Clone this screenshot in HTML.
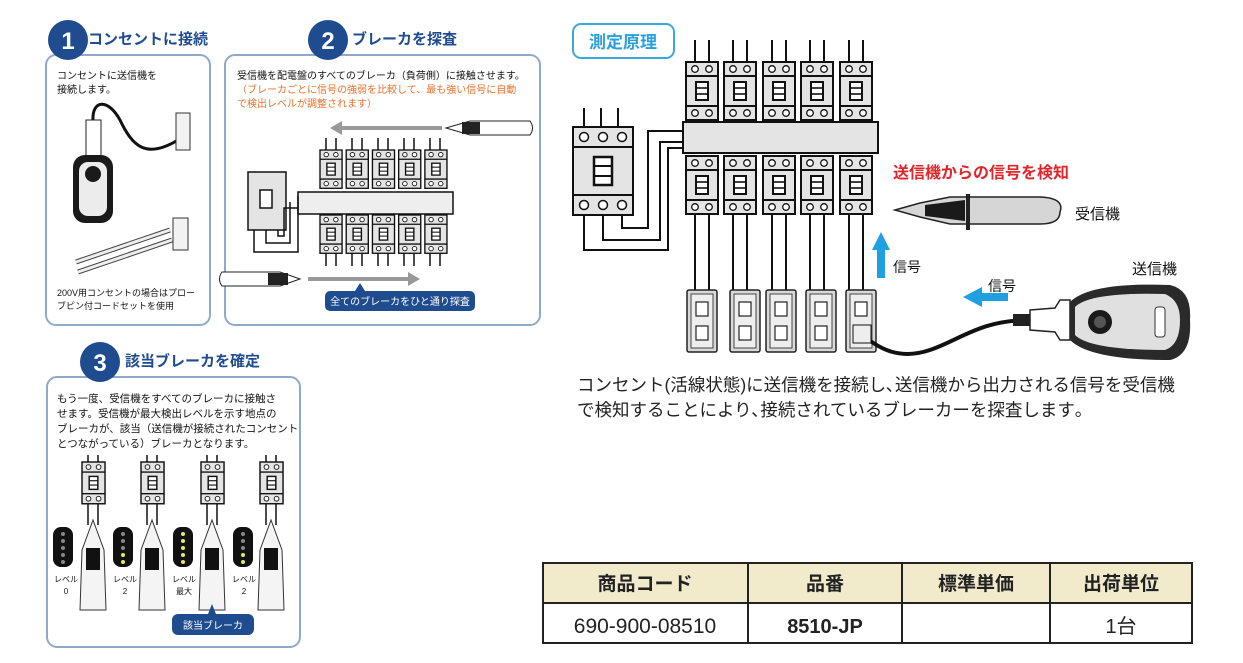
<!DOCTYPE html>
<html><head><meta charset="utf-8">
<style>
html,body{margin:0;padding:0;background:#fff;}
svg{display:block;}
text{font-family:"Liberation Sans","Noto Sans CJK JP",sans-serif;}
</style></head>
<body>
<svg width="1243" height="663" viewBox="0 0 1243 663" xmlns="http://www.w3.org/2000/svg">
<defs>
  <g id="brk">
    <rect x="0" y="0" width="32" height="58" fill="#e4e4e4" stroke="#111" stroke-width="2"/>
    <line x1="0" y1="14" x2="32" y2="14" stroke="#111" stroke-width="2"/>
    <line x1="0" y1="44" x2="32" y2="44" stroke="#111" stroke-width="2"/>
    <circle cx="9" cy="7" r="3.3" fill="#fff" stroke="#111" stroke-width="1.3"/>
    <circle cx="23" cy="7" r="3.3" fill="#fff" stroke="#111" stroke-width="1.3"/>
    <circle cx="9" cy="51" r="3.3" fill="#fff" stroke="#111" stroke-width="1.3"/>
    <circle cx="23" cy="51" r="3.3" fill="#fff" stroke="#111" stroke-width="1.3"/>
    <rect x="10" y="20" width="12" height="18" fill="#fff" stroke="#111" stroke-width="2"/>
    <line x1="10" y1="26" x2="22" y2="26" stroke="#111" stroke-width="1.6"/>
    <line x1="10" y1="32" x2="22" y2="32" stroke="#111" stroke-width="1.6"/>
  </g>
  <g id="outlet">
    <rect x="0" y="0" width="30" height="62" rx="2" fill="#d8d8d8" stroke="#222" stroke-width="1.5"/>
    <rect x="4" y="4" width="22" height="54" fill="#eee" stroke="#444" stroke-width="1"/>
    <rect x="9" y="12" width="12" height="14" fill="#fff" stroke="#222" stroke-width="1.2"/>
    <rect x="9" y="36" width="12" height="14" fill="#fff" stroke="#222" stroke-width="1.2"/>
  </g>
</defs>

<!-- ===== Panel 1 ===== -->
<rect x="46" y="55" width="164" height="270" rx="10" fill="#fff" stroke="#8fa9cc" stroke-width="2"/>
<circle cx="68" cy="40" r="20" fill="#1f4c8f"/>
<text x="68" y="49" font-size="24" font-weight="bold" fill="#fff" text-anchor="middle">1</text>
<text x="88" y="44" font-size="15" font-weight="bold" fill="#1f4c8f">コンセントに接続</text>
<text x="57" y="79" font-size="10" fill="#111">コンセントに送信機を</text>
<text x="57" y="93" font-size="10" fill="#111">接続します。</text>
<path d="M93 120 C92 100 108 98 120 120 C132 145 145 160 178 140" fill="none" stroke="#111" stroke-width="3"/>
<rect x="176" y="113" width="14" height="37" fill="#f2f2f2" stroke="#333" stroke-width="1"/>
<rect x="86" y="120" width="15" height="36" fill="#fff" stroke="#222"/>
<rect x="73" y="155" width="40" height="68" rx="12" fill="#1a1a1a"/>
<rect x="79" y="162" width="28" height="54" rx="9" fill="#ececec"/>
<circle cx="93" cy="174" r="8" fill="#1a1a1a"/>
<rect x="173" y="218" width="15" height="32" fill="#f2f2f2" stroke="#333"/>
<path d="M76 262 L170 230 M78 272 L172 240" stroke="#444" stroke-width="5"/>
<path d="M76 262 L170 230 M78 272 L172 240" stroke="#eee" stroke-width="3"/>
<text x="57" y="296" font-size="9" fill="#111">200V用コンセントの場合はプロー</text>
<text x="57" y="309" font-size="9" fill="#111">ブピン付コードセットを使用</text>

<!-- ===== Panel 2 ===== -->
<rect x="225" y="55" width="315" height="270" rx="10" fill="#fff" stroke="#8fa9cc" stroke-width="2"/>
<circle cx="328" cy="40" r="20" fill="#1f4c8f"/>
<text x="328" y="49" font-size="24" font-weight="bold" fill="#fff" text-anchor="middle">2</text>
<text x="352" y="44" font-size="15" font-weight="bold" fill="#1f4c8f">ブレーカを探査</text>
<text x="237" y="79" font-size="10" fill="#111">受信機を配電盤のすべてのブレーカ（負荷側）に接触させます。</text>
<text x="237" y="93" font-size="10" fill="#e8702a">（ブレーカごとに信号の強弱を比較して、最も強い信号に自動</text>
<text x="237" y="107" font-size="10" fill="#e8702a">で検出レベルが調整されます）</text>
<line x1="338" y1="128" x2="442" y2="128" stroke="#999" stroke-width="4"/>
<polygon points="330,128 342,121 342,135" fill="#999"/>
<path d="M446 128 L470 121 L530 121 Q535 128 530 135 L470 135 Z" fill="#fff" stroke="#222"/>
<rect x="462" y="122" width="18" height="12" fill="#222"/>
<g transform="translate(320,150) scale(0.69,0.66)">
  <use href="#brk" x="0"/><use href="#brk" x="38"/><use href="#brk" x="76"/><use href="#brk" x="114"/><use href="#brk" x="152"/>
</g>
<g stroke="#111" stroke-width="1.5">
  <line x1="326" y1="138" x2="326" y2="150"/><line x1="336" y1="138" x2="336" y2="150"/>
  <line x1="352" y1="138" x2="352" y2="150"/><line x1="362" y1="138" x2="362" y2="150"/>
  <line x1="378" y1="138" x2="378" y2="150"/><line x1="388" y1="138" x2="388" y2="150"/>
  <line x1="404" y1="138" x2="404" y2="150"/><line x1="414" y1="138" x2="414" y2="150"/>
  <line x1="430" y1="138" x2="430" y2="150"/><line x1="440" y1="138" x2="440" y2="150"/>
  <line x1="326" y1="253" x2="326" y2="266"/><line x1="336" y1="253" x2="336" y2="266"/>
  <line x1="352" y1="253" x2="352" y2="266"/><line x1="362" y1="253" x2="362" y2="266"/>
  <line x1="378" y1="253" x2="378" y2="266"/><line x1="388" y1="253" x2="388" y2="266"/>
  <line x1="404" y1="253" x2="404" y2="266"/><line x1="414" y1="253" x2="414" y2="266"/>
  <line x1="430" y1="253" x2="430" y2="266"/><line x1="440" y1="253" x2="440" y2="266"/>
</g>
<rect x="298" y="192" width="155" height="22" fill="#eee" stroke="#111" stroke-width="1.5"/>
<g transform="translate(320,215) scale(0.69,0.66)">
  <use href="#brk" x="0"/><use href="#brk" x="38"/><use href="#brk" x="76"/><use href="#brk" x="114"/><use href="#brk" x="152"/>
</g>
<rect x="248" y="172" width="38" height="58" fill="#e4e4e4" stroke="#111" stroke-width="1.5"/>
<rect x="260" y="190" width="12" height="18" fill="#fff" stroke="#111" stroke-width="1.5"/>
<path d="M254 230 V252 H298 V196 M266 230 V243 H290 V202 M278 230 V236 H284 V208 H298" fill="none" stroke="#111" stroke-width="1.5"/>
<line x1="308" y1="279" x2="412" y2="279" stroke="#999" stroke-width="4"/>
<polygon points="420,279 408,272 408,286" fill="#999"/>
<path d="M300 279 L280 272 L222 272 Q217 279 222 286 L280 286 Z" fill="#fff" stroke="#222"/>
<rect x="268" y="273" width="20" height="12" fill="#222"/>
<rect x="325" y="291" width="150" height="20" rx="5" fill="#1f4c8f"/>
<polygon points="355,291 360,283 365,291" fill="#1f4c8f"/>
<text x="400" y="305" font-size="10" fill="#fff" text-anchor="middle">全てのブレーカをひと通り探査</text>

<!-- ===== Panel 3 ===== -->
<rect x="47" y="377" width="253" height="270" rx="10" fill="#fff" stroke="#8fa9cc" stroke-width="2"/>
<circle cx="100" cy="362" r="20" fill="#1f4c8f"/>
<text x="100" y="371" font-size="24" font-weight="bold" fill="#fff" text-anchor="middle">3</text>
<text x="125" y="366" font-size="15" font-weight="bold" fill="#1f4c8f">該当ブレーカを確定</text>
<text x="57" y="402" font-size="10.5" fill="#111">もう一度、受信機をすべてのブレーカに接触さ</text>
<text x="57" y="417" font-size="10.5" fill="#111">せます。受信機が最大検出レベルを示す地点の</text>
<text x="57" y="432" font-size="10.5" fill="#111">ブレーカが、該当（送信機が接続されたコンセント</text>
<text x="57" y="447" font-size="10.5" fill="#111">とつながっている）ブレーカとなります。</text>
<g transform="translate(82,462) scale(0.72,0.72)"><use href="#brk"/></g>
<g transform="translate(141,462) scale(0.72,0.72)"><use href="#brk"/></g>
<g transform="translate(201,462) scale(0.72,0.72)"><use href="#brk"/></g>
<g transform="translate(260,462) scale(0.72,0.72)"><use href="#brk"/></g>
<g stroke="#111" stroke-width="1.5" fill="none">
  <path d="M88 455 V462 M98 455 V462 M88 504 V525 M98 504 V525"/>
  <path d="M147 455 V462 M157 455 V462 M147 504 V525 M157 504 V525"/>
  <path d="M207 455 V462 M217 455 V462 M207 504 V525 M217 504 V525"/>
  <path d="M266 455 V462 M276 455 V462 M266 504 V525 M276 504 V525"/>
</g>
<g>
  <rect x="53" y="527" width="20" height="40" rx="8" fill="#111"/>
  <rect x="113" y="527" width="20" height="40" rx="8" fill="#111"/>
  <rect x="173" y="527" width="20" height="40" rx="8" fill="#111"/>
  <rect x="233" y="527" width="20" height="40" rx="8" fill="#111"/>
  <g fill="#888"><circle cx="63" cy="534" r="2"/><circle cx="63" cy="541" r="2"/><circle cx="63" cy="548" r="2"/><circle cx="63" cy="555" r="2"/><circle cx="63" cy="562" r="2"/>
  <circle cx="123" cy="534" r="2"/><circle cx="123" cy="541" r="2"/><circle cx="123" cy="548" r="2"/>
  <circle cx="243" cy="534" r="2"/><circle cx="243" cy="541" r="2"/><circle cx="243" cy="548" r="2"/></g>
  <g fill="#e6ea60"><circle cx="123" cy="555" r="2"/><circle cx="123" cy="562" r="2"/>
  <circle cx="183" cy="534" r="2"/><circle cx="183" cy="541" r="2"/><circle cx="183" cy="548" r="2"/><circle cx="183" cy="555" r="2"/><circle cx="183" cy="562" r="2"/>
  <circle cx="243" cy="555" r="2"/><circle cx="243" cy="562" r="2"/></g>
</g>
<g fill="#f4f4f4" stroke="#333" stroke-width="1">
  <path d="M93 520 L82 550 L80 610 L106 610 L104 550 Z"/>
  <path d="M152 520 L141 550 L139 610 L165 610 L163 550 Z"/>
  <path d="M212 520 L201 550 L199 610 L225 610 L223 550 Z"/>
  <path d="M271 520 L260 550 L258 610 L284 610 L282 550 Z"/>
</g>
<g fill="#111"><rect x="86" y="548" width="14" height="22"/><rect x="145" y="548" width="14" height="22"/><rect x="205" y="548" width="14" height="22"/><rect x="264" y="548" width="14" height="22"/></g>
<g font-size="8" fill="#111" text-anchor="middle">
  <text x="66" y="582">レベル</text><text x="66" y="594">0</text>
  <text x="125" y="582">レベル</text><text x="125" y="594">2</text>
  <text x="184" y="582">レベル</text><text x="184" y="594">最大</text>
  <text x="244" y="582">レベル</text><text x="244" y="594">2</text>
</g>
<rect x="172" y="614" width="82" height="21" rx="6" fill="#1f4c8f"/>
<polygon points="208,614 212,604 216,614" fill="#1f4c8f"/>
<text x="213" y="629" font-size="10" fill="#fff" text-anchor="middle">該当ブレーカ</text>

<!-- ===== Right diagram ===== -->
<rect x="573" y="24" width="101" height="34" rx="8" fill="#fff" stroke="#3aa8dc" stroke-width="2"/>
<text x="623" y="48" font-size="17" font-weight="bold" fill="#2aa0da" text-anchor="middle">測定原理</text>
<g stroke="#111" stroke-width="2">
  <path d="M695 40 V62 M709 40 V62 M733 40 V62 M747 40 V62 M772 40 V62 M786 40 V62 M810 40 V62 M824 40 V62 M849 40 V62 M863 40 V62"/>
  <path d="M584 108 V127 M601 108 V127 M618 108 V127"/>
  <path d="M695 214 V290 M709 214 V296 M733 214 V292 M747 214 V292 M772 214 V290 M786 214 V290 M810 214 V290 M824 214 V290 M849 214 V290 M863 214 V290"/>
</g>
<use href="#brk" x="686" y="62"/><use href="#brk" x="724" y="62"/><use href="#brk" x="763" y="62"/><use href="#brk" x="801" y="62"/><use href="#brk" x="840" y="62"/>
<rect x="683" y="122" width="195" height="31" fill="#e4e4e4" stroke="#111" stroke-width="2"/>
<use href="#brk" x="686" y="156"/><use href="#brk" x="724" y="156"/><use href="#brk" x="763" y="156"/><use href="#brk" x="801" y="156"/><use href="#brk" x="840" y="156"/>
<rect x="573" y="127" width="60" height="88" fill="#e4e4e4" stroke="#111" stroke-width="2"/>
<line x1="573" y1="147" x2="633" y2="147" stroke="#111" stroke-width="2"/>
<line x1="573" y1="195" x2="633" y2="195" stroke="#111" stroke-width="2"/>
<g fill="#fff" stroke="#111" stroke-width="1.5">
  <circle cx="584" cy="137" r="4.5"/><circle cx="603" cy="137" r="4.5"/><circle cx="622" cy="137" r="4.5"/>
  <circle cx="584" cy="205" r="4.5"/><circle cx="603" cy="205" r="4.5"/><circle cx="622" cy="205" r="4.5"/>
</g>
<rect x="594" y="157" width="18" height="28" fill="#fff" stroke="#111" stroke-width="2.5"/>
<line x1="594" y1="166" x2="612" y2="166" stroke="#111" stroke-width="2"/>
<line x1="594" y1="176" x2="612" y2="176" stroke="#111" stroke-width="2"/>
<path d="M584 215 V250 H668 V148 H683 M603 215 V240 H660 V142 H683 M622 215 V228 H648 V131 H683" fill="none" stroke="#111" stroke-width="2"/>
<use href="#outlet" x="687" y="290"/><use href="#outlet" x="730" y="290"/><use href="#outlet" x="766" y="290"/><use href="#outlet" x="806" y="290"/><use href="#outlet" x="846" y="290"/>
<path d="M860 333 C880 350 900 360 930 350 C960 340 980 320 1030 320" fill="none" stroke="#111" stroke-width="4"/>
<rect x="853" y="325" width="18" height="18" fill="#eee" stroke="#111"/>
<!-- blue arrows -->
<rect x="877" y="248" width="8" height="30" fill="#1fa0e0"/>
<polygon points="872,250 881,232 890,250" fill="#1fa0e0"/>
<rect x="980" y="293" width="28" height="8" fill="#1fa0e0"/>
<polygon points="982,287 963,297 982,307" fill="#1fa0e0"/>
<text x="893" y="272" font-size="14" fill="#111">信号</text>
<text x="988" y="291" font-size="14" fill="#111">信号</text>
<text x="893" y="178" font-size="16" font-weight="bold" fill="#e0252b">送信機からの信号を検知</text>
<!-- receiver -->
<path d="M895 210 L920 203 L950 197 L1040 197 Q1065 198 1060 212 Q1060 224 1040 224 L950 224 L920 217 Z" fill="#d6d6d6" stroke="#222" stroke-width="1.5"/>
<path d="M925 205 L965 200 L965 221 L925 216 Z" fill="#1a1a1a"/>
<rect x="966" y="194" width="4" height="36" fill="#222"/>
<text x="1075" y="219" font-size="15" fill="#111">受信機</text>
<text x="1132" y="274" font-size="15" fill="#111">送信機</text>
<!-- transmitter -->
<rect x="1013" y="314" width="18" height="12" fill="#222"/>
<path d="M1030 310 L1055 308 L1060 300 L1070 300 L1070 340 L1060 340 L1055 332 L1030 330 Z" fill="#fff" stroke="#222" stroke-width="1.5"/>
<path d="M1070 302 Q1090 282 1170 285 Q1192 290 1190 320 Q1192 355 1170 360 Q1090 360 1070 340 Z" fill="#2a2a2a"/>
<path d="M1075 307 Q1090 292 1165 294 Q1180 300 1180 320 Q1180 345 1165 350 Q1090 350 1075 335 Z" fill="#e0e0e0"/>
<circle cx="1100" cy="322" r="12" fill="#1a1a1a"/>
<circle cx="1100" cy="322" r="6" fill="#555"/>
<rect x="1155" y="307" width="10" height="30" rx="3" fill="#fff" stroke="#333"/>
<text x="577" y="391" font-size="17.5" fill="#222">コンセント(活線状態)に送信機を接続し､送信機から出力される信号を受信機</text>
<text x="577" y="416" font-size="17.5" fill="#222">で検知することにより､接続されているブレーカーを探査します｡</text>

<!-- ===== Table ===== -->
<rect x="543" y="563" width="649" height="40" fill="#f1ebcc"/>
<g stroke="#222" stroke-width="2" fill="none">
  <rect x="543" y="563" width="649" height="80"/>
  <line x1="543" y1="603" x2="1192" y2="603"/>
  <line x1="748" y1="563" x2="748" y2="643"/>
  <line x1="902" y1="563" x2="902" y2="643"/>
  <line x1="1050" y1="563" x2="1050" y2="643"/>
</g>
<g font-size="19" font-weight="bold" fill="#222" text-anchor="middle">
  <text x="645" y="590">商品コード</text>
  <text x="825" y="590">品番</text>
  <text x="976" y="590">標準単価</text>
  <text x="1121" y="590">出荷単位</text>
</g>
<text x="645" y="633" font-size="21" fill="#222" text-anchor="middle">690-900-08510</text>
<text x="825" y="633" font-size="20" font-weight="bold" fill="#222" text-anchor="middle">8510-JP</text>
<text x="1121" y="633" font-size="20" fill="#222" text-anchor="middle">1台</text>
</svg>
</body></html>
